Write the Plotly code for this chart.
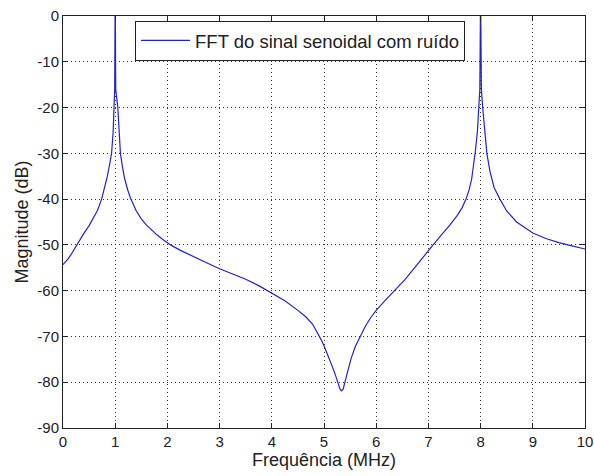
import plotly.graph_objects as go

freq_mhz = [0.00, 0.05, 0.10, 0.15, 0.20, 0.26, 0.33, 0.40, 0.50, 0.58, 0.66, 0.74, 0.80, 0.85, 0.90,
            0.93, 0.96, 0.98, 0.99, 1.00, 1.01, 1.05, 1.07, 1.10, 1.14, 1.18, 1.24, 1.30, 1.40, 1.50,
            1.60, 1.70, 1.80, 1.90, 2.00, 2.06, 2.25, 2.50, 2.75, 3.00, 3.25, 3.50, 3.75, 4.00, 4.25,
            4.50, 4.65, 4.78, 4.88, 4.95, 5.02, 5.10, 5.20, 5.27, 5.31, 5.34, 5.37, 5.40, 5.45, 5.52, 5.60,
            5.69, 5.80, 5.90, 6.00, 6.15, 6.36, 6.55, 6.75, 6.90, 7.00, 7.09, 7.25, 7.41, 7.55, 7.65,
            7.72, 7.78, 7.83, 7.87, 7.90, 7.94, 7.97, 7.985, 8.00, 8.008, 8.015, 8.04, 8.08, 8.12, 8.18, 8.26,
            8.37, 8.50, 8.69, 8.85, 9.00, 9.25, 9.50, 9.75, 10.00]
magnitude_db = [-54.3, -53.7, -53.0, -52.2, -51.2, -50.0, -48.8, -47.5, -45.8, -44.3, -42.5, -40.0, -37.5, -35.0, -32.0,
                -30.0, -25.5, -20.0, -16.0, 5.0, -16.0, -20.0, -25.0, -30.0, -33.0, -35.5, -38.0, -40.0, -42.5, -44.3,
                -45.7, -46.8, -47.8, -48.7, -49.5, -50.0, -51.2, -52.6, -53.9, -55.2, -56.3, -57.5, -58.9, -60.5, -62.2,
                -64.3, -65.7, -67.3, -69.2, -70.8, -72.6, -74.8, -77.8, -80.2, -81.6, -81.9, -81.4, -80.0, -77.8, -74.8, -72.2,
                -70.0, -67.6, -65.8, -64.3, -62.4, -60.0, -57.6, -54.8, -52.6, -51.2, -50.0, -47.8, -45.7, -43.6, -41.8,
                -40.0, -38.0, -35.5, -32.5, -29.5, -25.0, -20.0, -16.0, 5.0, -6.0, -16.0, -20.0, -25.5, -30.0, -34.0, -37.5,
                -40.0, -42.6, -45.0, -46.3, -47.4, -48.6, -49.5, -50.2, -50.9]

x_ticks = [0, 1, 2, 3, 4, 5, 6, 7, 8, 9, 10]
x_tick_text = ["0", "1", "2", "3", "4", "5", "6", "7", "8", "9", "10"]
y_ticks = [-90, -80, -70, -60, -50, -40, -30, -20, -10, 0]
y_tick_text = ["-90", "-80", "-70", "-60", "-50", "-40", "-30", "-20", "-10", "0"]

font_family = "Liberation Sans, Arial, sans-serif"

fig = go.Figure()
fig.add_trace(go.Scatter(
    x=freq_mhz, y=magnitude_db, mode="lines",
    name="FFT do sinal senoidal com ruído",
    line=dict(color="#2222cc", width=1.2),
))

axis_common = dict(
    showline=True, linecolor="#222222", linewidth=1, mirror="ticks",
    ticks="inside", ticklen=5, tickcolor="#222222", tickwidth=1,
    showgrid=True, gridcolor="#333333", gridwidth=1, griddash="1px,3px",
    zeroline=False, automargin=False,
    tickfont=dict(family=font_family, size=15, color="#222222"),
)

fig.update_layout(
    width=594, height=476,
    margin=dict(l=63, r=9, t=16, b=48),
    paper_bgcolor="white", plot_bgcolor="white",
    font=dict(family=font_family, size=15, color="#222222"),
    xaxis=dict(range=[0, 10], tickvals=x_ticks, ticktext=x_tick_text,
               title=dict(text="Frequência (MHz)", font=dict(size=18), standoff=2),
               **axis_common),
    yaxis=dict(range=[-90, 0], tickvals=y_ticks, ticktext=y_tick_text,
               title=dict(text="Magnitude (dB)", font=dict(size=18), standoff=4),
               **axis_common),
    showlegend=True,
    legend=dict(x=0.138, y=0.988, xanchor="left", yanchor="top",
                bgcolor="white", bordercolor="#222222", borderwidth=1,
                font=dict(family=font_family, size=18.5, color="#222222"),
                itemwidth=49, tracegroupgap=0),
)

fig.write_html("out.html")
